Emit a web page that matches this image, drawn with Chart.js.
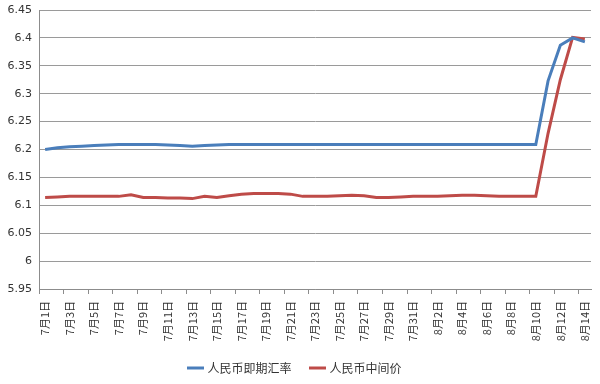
<!DOCTYPE html>
<html>
<head>
<meta charset="utf-8">
<script src="https://cdn.jsdelivr.net/npm/chart.js@4/dist/chart.umd.min.js"></script>
<style>
  html, body { margin: 0; padding: 0; background: #fff; }
  #wrap { width: 600px; height: 384px; }
</style>
</head>
<body>
<div id="wrap"><canvas id="rateChart" width="600" height="384"></canvas></div>
<script>
// 日期 7月1日 - 8月14日
const dates = [];
for (let d = 1; d <= 31; d++) dates.push("7月" + d + "日");
for (let d = 1; d <= 14; d++) dates.push("8月" + d + "日");

// 人民币即期汇率
const spotRate = [
  6.200, 6.203, 6.205, 6.206, 6.207, 6.208, 6.209, 6.209, 6.209, 6.209,
  6.208, 6.207, 6.206, 6.207, 6.208, 6.209, 6.209, 6.209, 6.209, 6.209,
  6.209, 6.209, 6.209, 6.209, 6.209, 6.209, 6.209, 6.209, 6.209, 6.209,
  6.209, 6.209, 6.209, 6.209, 6.209, 6.209, 6.209, 6.209, 6.209, 6.209,
  6.209, 6.323, 6.387, 6.400, 6.393
];

// 人民币中间价
const centralParity = [
  6.114, 6.115, 6.116, 6.116, 6.116, 6.116, 6.116, 6.119, 6.114, 6.114,
  6.113, 6.113, 6.112, 6.116, 6.114, 6.117, 6.120, 6.121, 6.121, 6.121,
  6.120, 6.116, 6.116, 6.116, 6.117, 6.118, 6.117, 6.114, 6.114, 6.115,
  6.116, 6.116, 6.116, 6.117, 6.118, 6.118, 6.117, 6.116, 6.116, 6.116,
  6.116, 6.229, 6.325, 6.401, 6.398
];

const yMin = 5.95;
const yMax = 6.45;
const yStep = 0.05;

const axisGray = "#8c8c8c";
const textColor = "#333333";

new Chart(document.getElementById("rateChart").getContext("2d"), {
  type: "line",
  data: {
    labels: dates,
    datasets: [
      {
        label: "人民币即期汇率",
        data: spotRate,
        borderColor: "#4a7ebb",
        backgroundColor: "#4a7ebb",
        borderWidth: 3,
        pointRadius: 0,
        tension: 0,
      },
      {
        label: "人民币中间价",
        data: centralParity,
        borderColor: "#be4b48",
        backgroundColor: "#be4b48",
        borderWidth: 3,
        pointRadius: 0,
        tension: 0,
      },
    ],
  },
  options: {
    responsive: false,
    animation: false,
    layout: { padding: { top: 10, right: 9, left: 0, bottom: 0 } },
    plugins: {
      tooltip: { enabled: false },
      legend: {
        position: "bottom",
        labels: {
          usePointStyle: true,
          pointStyle: "line",
          boxWidth: 24,
          padding: 20,
          color: textColor,
          font: { family: "'Noto Sans CJK SC', sans-serif", size: 12 },
        },
      },
    },
    scales: {
      x: {
        offset: true,
        border: { color: axisGray, width: 1 },
        grid: {
          offset: true,
          drawOnChartArea: false,
          tickLength: 5,
          color: (ctx) => (ctx.index % 2 === 0 ? axisGray : "rgba(0,0,0,0)"),
        },
        ticks: {
          autoSkip: false,
          minRotation: 90,
          maxRotation: 90,
          padding: 7,
          color: textColor,
          font: { family: "'Noto Sans CJK SC', sans-serif", size: 11 },
          callback: function (value, index) {
            return index % 2 === 0 ? this.getLabelForValue(value) : "";
          },
        },
        afterFit: (s) => {
          s.height = 53;
          s.paddingLeft = 0;
          s.paddingRight = 0;
        },
      },
      y: {
        min: yMin,
        max: yMax,
        border: { color: axisGray, width: 1 },
        grid: { color: "#9a9a9a", tickLength: 0 },
        ticks: {
          stepSize: yStep,
          padding: 7,
          color: textColor,
          font: { family: "'DejaVu Sans', sans-serif", size: 11 },
          callback: (v) => String(Number(v.toFixed(2))),
        },
        afterFit: (s) => {
          s.width = 39;
          s.paddingTop = 0;
          s.paddingBottom = 0;
        },
      },
    },
  },
});
</script>
</body>
</html>
